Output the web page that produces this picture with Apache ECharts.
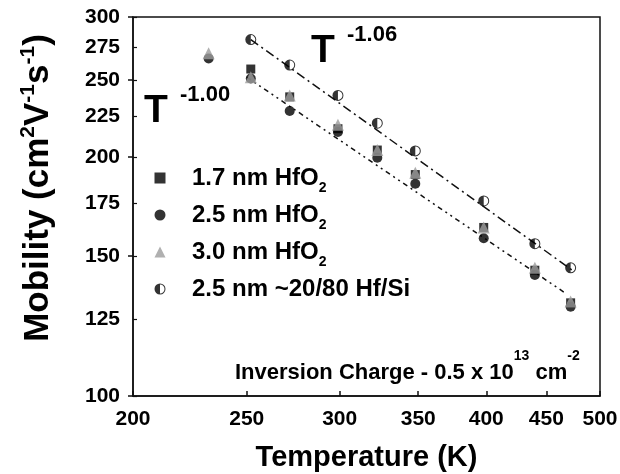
<!DOCTYPE html>
<html><head><meta charset="utf-8">
<script src="https://cdn.jsdelivr.net/npm/echarts@6/dist/echarts.min.js"></script>
<style>html,body{margin:0;padding:0;background:#fff}#c{width:620px;height:474px}</style>
</head><body><div id="c"></div>
<script>
// ---- data ----
const xTicks = [200, 250, 300, 350, 400, 450, 500];
const yTicks = [100, 125, 150, 175, 200, 225, 250, 275, 300];
const yMajorTicks = [100, 150, 200, 250, 300];
const seriesNames = ['1.7 nm HfO2', '2.5 nm HfO2', '3.0 nm HfO2', '2.5 nm ~20/80 Hf/Si'];

const sqT   = [252, 272, 299, 323, 348, 398, 440, 472];
const sqV   = [258, 238, 217, 204, 190, 163, 144, 131];
const circT = [232, 252, 272, 299, 323, 348, 398, 440, 472];
const circV = [266, 251, 228.5, 215, 199.5, 185, 158, 142, 129.5];
const triT  = [232, 252, 272, 299, 323, 348, 398, 440, 472];
const triV  = [270, 252, 239, 219.5, 204, 191, 163, 145, 131.5];
const hsT   = [252, 272, 299, 323, 348, 398, 440, 472];
const hsV   = [281, 261, 239, 220.5, 203.5, 176, 155.5, 145];

const fitUpperT = [252, 476];
const fitUpperV = [281, 143.2];
const fitLowerT = [250, 468];
const fitLowerV = [252, 134.5];

// ---- chart ----
const FF = '"Liberation Sans", Arial, sans-serif';
const L = Math.log10;
const pts = (T, V) => T.map((t, i) => [L(t), L(V[i])]);
const fmt = v => String(Math.round(Math.pow(10, v)));
const halfCircle = 'path://M10 0A10 10 0 0 0 10 20ZM10 0A10 10 0 0 1 10 20L10 18.2A8.2 8.2 0 0 0 10 1.8Z';

const chart = echarts.init(document.getElementById('c'), null, {renderer: 'canvas'});
chart.setOption({
  animation: false,
  backgroundColor: '#fff',
  grid: {left: 133, right: 20, top: 17, bottom: 78, outerBoundsMode: 'none', containLabel: false,
         show: true, borderColor: '#111', borderWidth: 1.5, backgroundColor: 'transparent'},
  xAxis: {
    type: 'value', min: L(200), max: L(500),
    axisLine: {lineStyle: {color: '#111', width: 1.5}},
    axisTick: {inside: true, length: 5, customValues: xTicks.map(L), lineStyle: {color: '#111', width: 1.5}},
    axisLabel: {customValues: xTicks.map(L), formatter: fmt, fontSize: 21, fontWeight: 'bold', color: '#000', margin: 13, fontFamily: FF},
    splitLine: {show: false},
    name: 'Temperature (K)', nameLocation: 'middle', nameGap: 47,
    nameTextStyle: {fontSize: 29, fontWeight: 'bold', color: '#000', fontFamily: FF}
  },
  yAxis: [{
    type: 'value', min: 2, max: L(300),
    axisLine: {show: true, lineStyle: {color: '#111', width: 1.5}},
    axisTick: {show: true, inside: false, length: 5, customValues: yMajorTicks.map(L), lineStyle: {color: '#111', width: 1.5}},
    axisLabel: {customValues: yTicks.map(L), formatter: fmt, fontSize: 21, fontWeight: 'bold', color: '#000', margin: 13, fontFamily: FF},
    splitLine: {show: false}
  }, {
    type: 'value', min: 2, max: L(300), position: 'left',
    axisLine: {show: false},
    axisTick: {show: true, inside: true, length: 4, customValues: yTicks.map(L), lineStyle: {color: '#111', width: 1.2}},
    axisLabel: {show: false},
    splitLine: {show: false}
  }],
  legend: {
    data: seriesNames, orient: 'vertical', left: 154.5, top: 166, padding: 0,
    itemWidth: 11, itemHeight: 11, itemGap: 7.5, selectedMode: false,
    formatter: n => n.endsWith('HfO2') ? '{m|' + n.slice(0, -1) + '}{s|2}' : '{m|' + n + '}',
    textStyle: {
      color: '#000', fontFamily: FF,
      rich: {
        m: {fontSize: 24, fontWeight: 'bold', fontFamily: FF, color: '#000', lineHeight: 35, verticalAlign: 'middle', padding: [0, 0, 0, 21.5]},
        s: {fontSize: 14, fontWeight: 'bold', fontFamily: FF, color: '#000', verticalAlign: 'bottom'}
      }
    }
  },
  series: [
    {name: 'fitUpper', type: 'line', data: pts(fitUpperT, fitUpperV), symbol: 'none', silent: true, z: 1,
     lineStyle: {color: '#111', width: 1.5, type: [9, 4, 2, 4]}},
    {name: 'fitLower', type: 'line', data: pts(fitLowerT, fitLowerV), symbol: 'none', silent: true, z: 1,
     lineStyle: {color: '#111', width: 1.5, type: [5, 4, 2, 4, 2, 4]}},
    {name: seriesNames[0], type: 'scatter', data: pts(sqT, sqV), symbol: 'rect', symbolSize: 9, itemStyle: {color: '#000'}, z: 3},
    {name: seriesNames[1], type: 'scatter', data: pts(circT, circV), symbol: 'circle', symbolSize: 10, itemStyle: {color: '#000'}, z: 3},
    {name: seriesNames[2], type: 'scatter', data: pts(triT, triV), symbol: 'triangle', symbolSize: 12, itemStyle: {color: '#9c9c9c'}, z: 3},
    {name: seriesNames[3], type: 'scatter', data: pts(hsT, hsV), symbol: halfCircle, symbolSize: 11, itemStyle: {color: '#000'}, z: 3}
  ],
  graphic: [
    {type: 'text', x: 38, y: 188, rotation: Math.PI / 2,
     style: {text: '{m|Mobility (cm}{p|2}{m|V}{p|-1}{m|s}{p|-1}{m|)}', align: 'center', verticalAlign: 'middle',
       rich: {
         m: {fontSize: 35, fontWeight: 'bold', fontFamily: FF, fill: '#000', lineHeight: 41, verticalAlign: 'middle'},
         p: {fontSize: 21, fontWeight: 'bold', fontFamily: FF, fill: '#000', verticalAlign: 'top'}
       }}},
    {type: 'text', x: 144, y: 111, style: {text: 'T', fontSize: 39, fontWeight: 'bold', fontFamily: FF, fill: '#000', verticalAlign: 'middle'}},
    {type: 'text', x: 180, y: 95, style: {text: '-1.00', fontSize: 22, fontWeight: 'bold', fontFamily: FF, fill: '#000', verticalAlign: 'middle'}},
    {type: 'text', x: 311, y: 51.5, style: {text: 'T', fontSize: 39, fontWeight: 'bold', fontFamily: FF, fill: '#000', verticalAlign: 'middle'}},
    {type: 'text', x: 347, y: 35, style: {text: '-1.06', fontSize: 22, fontWeight: 'bold', fontFamily: FF, fill: '#000', verticalAlign: 'middle'}},
    {type: 'text', x: 235, y: 372.5,
     style: {text: '{m|Inversion Charge - 0.5 x 10}{p|13}{m| cm}{p|-2}', align: 'left', verticalAlign: 'middle',
       rich: {
         m: {fontSize: 22, fontWeight: 'bold', fontFamily: FF, fill: '#000', lineHeight: 46, verticalAlign: 'middle'},
         p: {fontSize: 14, fontWeight: 'bold', fontFamily: FF, fill: '#000', verticalAlign: 'top'}
       }}}
  ]
});
</script>
</body></html>
